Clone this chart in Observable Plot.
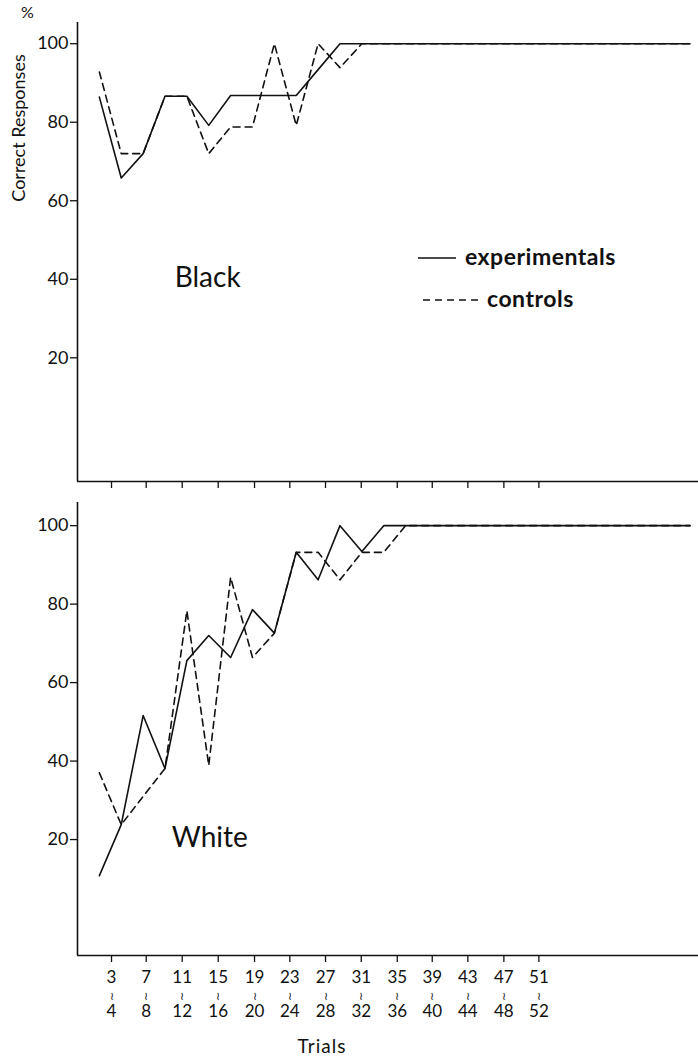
<!DOCTYPE html>
<html><head><meta charset="utf-8">
<script src="https://cdn.jsdelivr.net/npm/d3@7"></script>
<script src="https://cdn.jsdelivr.net/npm/@observablehq/plot@0.6"></script>
<style>
body{margin:0;background:#fff;}
#wrap{position:relative;width:698px;height:1057px;font-family:Lato,"Open Sans",sans-serif;color:#111;overflow:hidden;}
.abs{position:absolute;white-space:nowrap;line-height:1;}
.plot{position:absolute;left:0;}
</style></head><body><div id="wrap"></div>
<script>
// Trial blocks as plotted
const blocks = [1,2,3,4,5,6,7,8,9,10,11,12,13,14,15,16,17,18,19,20,21,22,23,24,25,26,27,28];
// Black panel, % correct (read against the drawn axis)
const blackExp = [86.4,65.8,72,86.6,86.6,79.2,86.8,86.8,86.8,86.8,93.4,100,100,100,100,100,100,100,100,100,100,100,100,100,100,100,100,100];
const blackCtl = [92.8,72,72,86.6,86.6,72,78.8,78.8,100,79.2,100,93.9,100,100,100,100,100,100,100,100,100,100,100,100,100,100,100,100];
// White panel, % correct
const whiteExp = [10.8,23.8,51.6,38.1,65.6,72,66.4,78.6,72.6,93.2,86.2,100,93.4,100,100,100,100,100,100,100,100,100,100,100,100,100,100,100];
const whiteCtl = [37,23.8,31,38.1,78.3,38.9,86.8,66.4,72.6,93.2,93.2,86.2,93.2,93.2,100,100,100,100,100,100,100,100,100,100,100,100,100,100];
// x-axis ticks (positions on the block axis as drawn) and labels
const tickPos  = [1.555,3.141,4.787,6.433,8.093,9.707,11.339,12.972,14.618,16.218,17.846,19.492,21.093];
const tickFrom = ["3","7","11","15","19","23","27","31","35","39","43","47","51"];
const tickTo   = ["4","8","12","16","20","24","28","32","36","40","44","48","52"];
const yTicks = [20,40,60,80,100];

const xDomain = [0, 28.39];
const FONT = "Lato, 'Open Sans', sans-serif";

function panel({exp, ctl, yDomain, height, marginTop, marginBottom, name, nameX, nameY, labels}) {
  const marks = [
    Plot.ruleX([xDomain[0]], {stroke: "#111", strokeWidth: 1.6}),
    Plot.ruleY([yDomain[0]], {stroke: "#111", strokeWidth: 1.6}),
    Plot.axisY({ticks: yTicks, tickSize: 7, tickPadding: 2, fontSize: 18, label: null, stroke: "#111", strokeWidth: 1.3}),
    Plot.axisX({ticks: tickPos, tickSize: 7, tickFormat: () => "", label: null, stroke: "#111", strokeWidth: 1.3}),
    Plot.line(ctl, {x: (d, i) => blocks[i], y: d => d, stroke: "#111", strokeWidth: 1.6, strokeDasharray: "7,5"}),
    Plot.line(exp, {x: (d, i) => blocks[i], y: d => d, stroke: "#111", strokeWidth: 1.6}),
    Plot.text([name], {x: nameX, y: nameY, text: d => d, fontSize: 28, fill: "#111", textAnchor: "middle", style: "letter-spacing:1.5px"})
  ];
  if (labels) {
    marks.push(
      Plot.text(tickFrom, {x: (d, i) => tickPos[i], text: d => d, frameAnchor: "bottom", dy: 27, fontSize: 17, fill: "#111"}),
      Plot.text(tickFrom, {x: (d, i) => tickPos[i], text: () => "\u2240", frameAnchor: "bottom", dy: 44, fontSize: 11, fill: "#111"}),
      Plot.text(tickTo, {x: (d, i) => tickPos[i], text: d => d, frameAnchor: "bottom", dy: 61, fontSize: 17, fill: "#111"})
    );
  }
  return Plot.plot({
    width: 698, height, marginLeft: 77, marginRight: 0, marginTop, marginBottom,
    style: {fontFamily: FONT, color: "#111", background: "transparent", overflow: "visible"},
    x: {domain: xDomain},
    y: {domain: yDomain},
    marks
  });
}

const wrap = document.getElementById("wrap");
const topPlot = panel({exp: blackExp, ctl: blackCtl, yDomain: [-11.5, 105.4], height: 492, marginTop: 22, marginBottom: 11,
  name: "Black", nameX: 5.95, nameY: 40.2});
topPlot.classList.add("plot"); topPlot.style.top = "0px";
wrap.appendChild(topPlot);

const botPlot = panel({exp: whiteExp, ctl: whiteCtl, yDomain: [-9.55, 105.9], height: 565, marginTop: 10, marginBottom: 102,
  name: "White", nameX: 6.05, nameY: 20.5, labels: true});
botPlot.classList.add("plot"); botPlot.style.top = "492px";
wrap.appendChild(botPlot);

// Annotations: % sign, y-title, legend, x-title
function addText(txt, css) {
  const d = document.createElement("div");
  d.className = "abs"; d.textContent = txt;
  Object.assign(d.style, css);
  wrap.appendChild(d);
}
addText("%", {left: "21px", top: "4px", fontSize: "16px"});
addText("Correct Responses", {left: "18px", top: "128px", fontSize: "18px", transform: "translate(-50%,-50%) rotate(-90deg)"});
addText("Trials", {left: "322px", top: "1045px", fontSize: "19px", letterSpacing: "1px", transform: "translate(-50%,-50%)"});

const ns = "http://www.w3.org/2000/svg";
const leg = document.createElementNS(ns, "svg");
leg.setAttribute("width", "698"); leg.setAttribute("height", "1057");
leg.style.position = "absolute"; leg.style.left = "0"; leg.style.top = "0"; leg.style.pointerEvents = "none";
function lineEl(x1, x2, y, dash) {
  const l = document.createElementNS(ns, "line");
  l.setAttribute("x1", x1); l.setAttribute("x2", x2); l.setAttribute("y1", y); l.setAttribute("y2", y);
  l.setAttribute("stroke", "#111"); l.setAttribute("stroke-width", "1.6");
  if (dash) l.setAttribute("stroke-dasharray", dash);
  leg.appendChild(l);
}
lineEl(418, 456, 258, null);
lineEl(423, 478, 300, "7,5");
wrap.appendChild(leg);
addText("experimentals", {left: "465px", top: "258px", fontSize: "23px", fontWeight: "bold", letterSpacing: "0.5px", transform: "translateY(-55%)"});
addText("controls", {left: "487px", top: "300px", fontSize: "23px", fontWeight: "bold", letterSpacing: "0.5px", transform: "translateY(-55%)"});
</script>
</body></html>
